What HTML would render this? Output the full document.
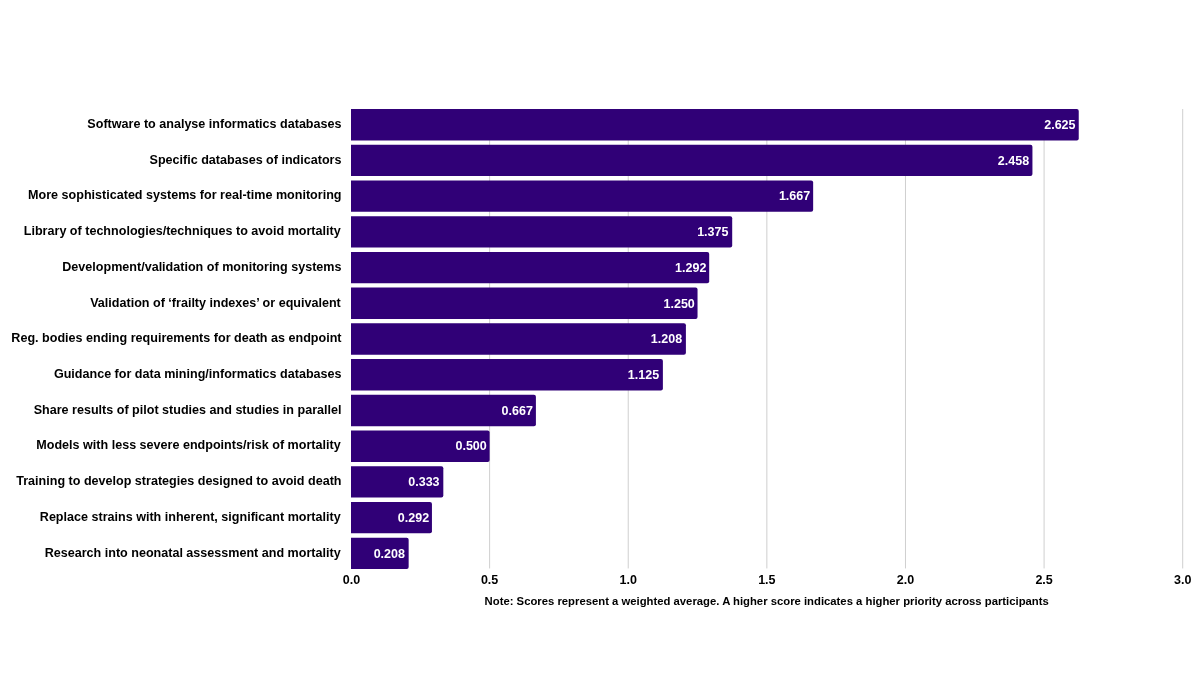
<!DOCTYPE html>
<html lang="en"><head><meta charset="utf-8"><title>Priority scores</title>
<style>
html,body{margin:0;padding:0;background:#fff;}
body{width:1200px;height:675px;overflow:hidden;font-family:"Liberation Sans",Arial,Helvetica,sans-serif;}
svg{display:block;}
svg text{font-family:"Liberation Sans",Arial,Helvetica,sans-serif;font-weight:700;}
.lab{font-size:12.57px;fill:#000;text-anchor:end;}
.val{font-size:12.5px;fill:#fff;text-anchor:end;}
.ax{font-size:12.5px;fill:#000;text-anchor:middle;}
.note{font-size:11.3px;fill:#000;}
</style></head>
<body>
<svg width="1200" height="675" viewBox="0 0 1200 675">
<rect width="1200" height="675" fill="#ffffff"/>
<g stroke="#cfcfcf" stroke-width="1">
<line x1="489.62" y1="109.0" x2="489.62" y2="568.44"/>
<line x1="628.23" y1="109.0" x2="628.23" y2="568.44"/>
<line x1="766.85" y1="109.0" x2="766.85" y2="568.44"/>
<line x1="905.47" y1="109.0" x2="905.47" y2="568.44"/>
<line x1="1044.08" y1="109.0" x2="1044.08" y2="568.44"/>
<line x1="1182.7" y1="109.0" x2="1182.7" y2="568.44"/>
</g>
<path d="M351.00 109.00h725.74a2 2 0 0 1 2 2v27.40a2 2 0 0 1 -2 2h-725.74z" fill="#300077"/>
<text class="lab" x="341.5" y="128.00">Software to analyse informatics databases</text>
<text class="val" x="1075.49" y="128.90">2.625</text>
<path d="M351.00 144.72h679.44a2 2 0 0 1 2 2v27.40a2 2 0 0 1 -2 2h-679.44z" fill="#300077"/>
<text class="lab" x="341.5" y="163.72">Specific databases of indicators</text>
<text class="val" x="1029.09" y="164.62">2.458</text>
<path d="M351.00 180.44h460.15a2 2 0 0 1 2 2v27.40a2 2 0 0 1 -2 2h-460.15z" fill="#300077"/>
<text class="lab" x="341.5" y="199.44">More sophisticated systems for real-time monitoring</text>
<text class="val" x="810.20" y="200.34">1.667</text>
<path d="M351.00 216.16h379.20a2 2 0 0 1 2 2v27.40a2 2 0 0 1 -2 2h-379.20z" fill="#300077"/>
<text class="lab" x="340.7" y="235.16">Library of technologies/techniques to avoid mortality</text>
<text class="val" x="728.45" y="236.06">1.375</text>
<path d="M351.00 251.88h356.19a2 2 0 0 1 2 2v27.40a2 2 0 0 1 -2 2h-356.19z" fill="#300077"/>
<text class="lab" x="341.5" y="270.88">Development/validation of monitoring systems</text>
<text class="val" x="706.34" y="271.78">1.292</text>
<path d="M351.00 287.60h344.54a2 2 0 0 1 2 2v27.40a2 2 0 0 1 -2 2h-344.54z" fill="#300077"/>
<text class="lab" x="340.8" y="306.60">Validation of ‘frailty indexes’ or equivalent</text>
<text class="val" x="694.79" y="307.50">1.250</text>
<path d="M351.00 323.32h332.90a2 2 0 0 1 2 2v27.40a2 2 0 0 1 -2 2h-332.90z" fill="#300077"/>
<text class="lab" x="341.5" y="342.32">Reg. bodies ending requirements for death as endpoint</text>
<text class="val" x="682.15" y="343.22">1.208</text>
<path d="M351.00 359.04h309.89a2 2 0 0 1 2 2v27.40a2 2 0 0 1 -2 2h-309.89z" fill="#300077"/>
<text class="lab" x="341.5" y="378.04">Guidance for data mining/informatics databases</text>
<text class="val" x="659.14" y="378.94">1.125</text>
<path d="M351.00 394.76h182.91a2 2 0 0 1 2 2v27.40a2 2 0 0 1 -2 2h-182.91z" fill="#300077"/>
<text class="lab" x="341.5" y="413.76">Share results of pilot studies and studies in parallel</text>
<text class="val" x="532.86" y="414.66">0.667</text>
<path d="M351.00 430.48h136.62a2 2 0 0 1 2 2v27.40a2 2 0 0 1 -2 2h-136.62z" fill="#300077"/>
<text class="lab" x="340.7" y="449.48">Models with less severe endpoints/risk of mortality</text>
<text class="val" x="486.77" y="450.38">0.500</text>
<path d="M351.00 466.20h90.32a2 2 0 0 1 2 2v27.40a2 2 0 0 1 -2 2h-90.32z" fill="#300077"/>
<text class="lab" x="341.5" y="485.20">Training to develop strategies designed to avoid death</text>
<text class="val" x="439.57" y="486.10">0.333</text>
<path d="M351.00 501.92h78.95a2 2 0 0 1 2 2v27.40a2 2 0 0 1 -2 2h-78.95z" fill="#300077"/>
<text class="lab" x="340.7" y="520.92">Replace strains with inherent, significant mortality</text>
<text class="val" x="429.10" y="521.82">0.292</text>
<path d="M351.00 537.64h55.66a2 2 0 0 1 2 2v27.40a2 2 0 0 1 -2 2h-55.66z" fill="#300077"/>
<text class="lab" x="340.7" y="556.64">Research into neonatal assessment and mortality</text>
<text class="val" x="404.91" y="557.54">0.208</text>
<text class="ax" x="351.40" y="583.6">0.0</text>
<text class="ax" x="489.62" y="583.6">0.5</text>
<text class="ax" x="628.23" y="583.6">1.0</text>
<text class="ax" x="766.85" y="583.6">1.5</text>
<text class="ax" x="905.47" y="583.6">2.0</text>
<text class="ax" x="1044.08" y="583.6">2.5</text>
<text class="ax" x="1182.70" y="583.6">3.0</text>
<text class="note" x="484.6" y="604.5">Note: Scores represent a weighted average. A higher score indicates a higher priority across participants</text>
</svg>
</body></html>
